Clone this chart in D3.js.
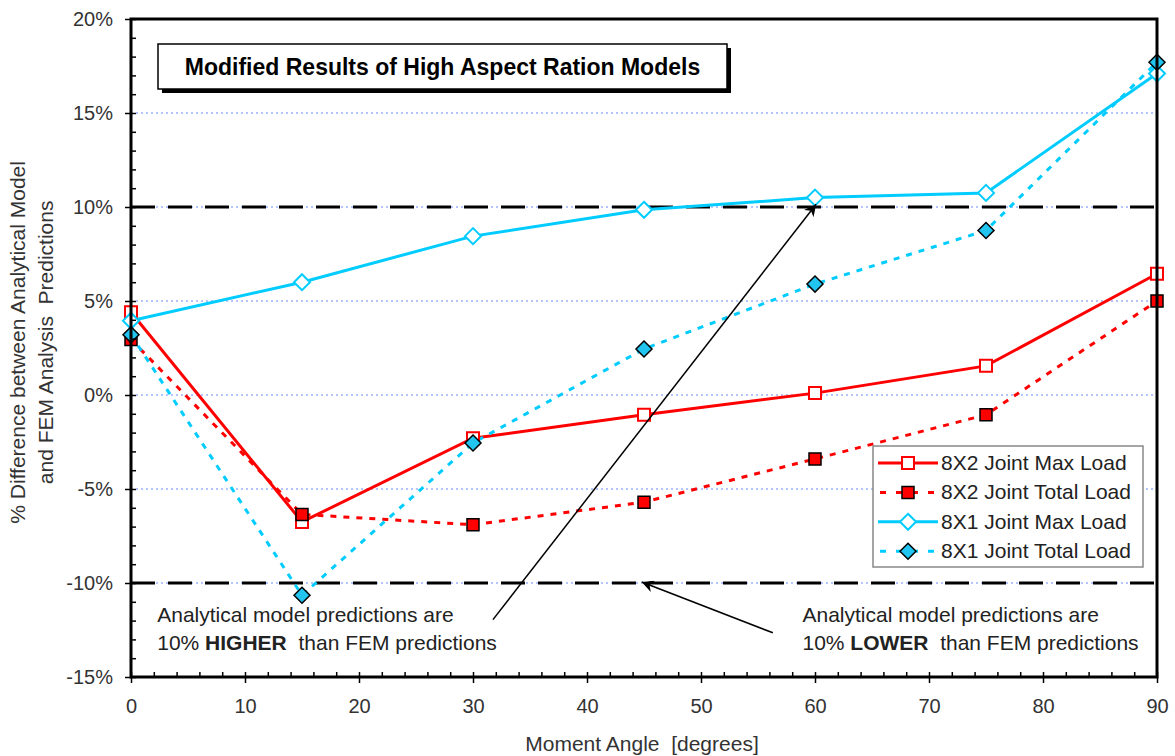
<!DOCTYPE html>
<html>
<head>
<meta charset="utf-8">
<script src="https://cdn.jsdelivr.net/npm/d3@7"></script>
<style>
  body { margin: 0; background: #fff; }
  text { font-family: Arial, 'Liberation Sans', sans-serif; }
</style>
</head>
<body>
<div id="chart"></div>
<script>
// Data (percent difference vs moment angle)

var angles = [0, 15, 30, 45, 60, 75, 90]
var max8x2 = [4.4, -6.75, -2.3, -1.05, 0.1, 1.55, 6.45]
var total8x2 = [2.95, -6.35, -6.9, -5.7, -3.4, -1.05, 5.0]
var max8x1 = [3.95, 6.0, 8.45, 9.85, 10.5, 10.75, 17.1]
var total8x1 = [3.2, -10.65, -2.55, 2.45, 5.9, 8.75, 17.7]

var seriesNames = [
  '8X2 Joint Max Load',
  '8X2 Joint Total Load',
  '8X1 Joint Max Load',
  '8X1 Joint Total Load'
]

var xTicks = [0, 10, 20, 30, 40, 50, 60, 70, 80, 90]
var yTicks = [-15, -10, -5, 0, 5, 10, 15, 20]
var gridValues = [-10, -5, 0, 5, 10, 15]
var limitValues = [-10, 10]

// Set up margin/height/width

var margin = { top: 19, left: 131, right: 18, bottom: 79 }
var height = 756 - margin.top - margin.bottom
var width = 1175 - margin.left - margin.right

var svg = d3
  .select('#chart')
  .append('svg')
  .attr('height', height + margin.top + margin.bottom)
  .attr('width', width + margin.left + margin.right)
  .append('g')
  .attr('transform', 'translate(' + margin.left + ',' + margin.top + ')')

var red = '#ff0000'
var cyan = '#00ccff'

// Scales

var xPositionScale = d3.scaleLinear().domain([0, 90]).range([0, width])
var yPositionScale = d3.scaleLinear().domain([-15, 20]).range([height, 0])

var series = [
  { name: seriesNames[0], values: max8x2, color: red, dashed: false, shape: 'square', filled: false },
  { name: seriesNames[1], values: total8x2, color: red, dashed: true, shape: 'square', filled: true },
  { name: seriesNames[2], values: max8x1, color: cyan, dashed: false, shape: 'diamond', filled: false },
  { name: seriesNames[3], values: total8x1, color: cyan, dashed: true, shape: 'diamond', filled: true }
]

// grid lines (light blue dotted)

svg
  .selectAll('.grid-line')
  .data(gridValues)
  .enter()
  .append('line')
  .attr('class', 'grid-line')
  .attr('x1', 0)
  .attr('x2', width)
  .attr('y1', d => yPositionScale(d))
  .attr('y2', d => yPositionScale(d))
  .attr('stroke', '#9db0ff')
  .attr('stroke-width', 1.5)
  .attr('stroke-dasharray', '2,3')

// +/-10% limit lines

svg
  .selectAll('.limit-line')
  .data(limitValues)
  .enter()
  .append('line')
  .attr('class', 'limit-line')
  .attr('x1', 0)
  .attr('x2', width)
  .attr('y1', d => yPositionScale(d))
  .attr('y2', d => yPositionScale(d))
  .attr('stroke', '#000')
  .attr('stroke-width', 3)
  .attr('stroke-dasharray', '24,13')

// lines

var line = d3
  .line()
  .x((d, i) => xPositionScale(angles[i]))
  .y(d => yPositionScale(d))

svg
  .selectAll('.series-line')
  .data(series)
  .enter()
  .append('path')
  .attr('class', 'series-line')
  .attr('d', d => line(d.values))
  .attr('fill', 'none')
  .attr('stroke', d => d.color)
  .attr('stroke-width', 3)
  .attr('stroke-dasharray', d => (d.dashed ? '6,7' : null))

// markers

function markerPath(shape) {
  if (shape === 'square') {
    return 'M-6,-6H6V6H-6Z'
  }
  return 'M0,-8L8,0L0,8L-8,0Z'
}

function markerFill(d) {
  if (!d.filled) return '#fff'
  return d.shape === 'square' ? red : '#22c4f0'
}

function markerStroke(d) {
  return d.filled ? '#000' : d.color
}

series.forEach(function(s) {
  svg
    .selectAll('.marker-' + s.shape)
    .data(s.values)
    .enter()
    .append('path')
    .attr('d', markerPath(s.shape))
    .attr('transform', (d, i) => 'translate(' + xPositionScale(angles[i]) + ',' + yPositionScale(d) + ')')
    .attr('fill', markerFill(s))
    .attr('stroke', markerStroke(s))
    .attr('stroke-width', s.filled ? 1.5 : 2)
})

// plot frame

svg
  .append('rect')
  .attr('x', 0)
  .attr('y', 0)
  .attr('width', width)
  .attr('height', height)
  .attr('fill', 'none')
  .attr('stroke', '#000')
  .attr('stroke-width', 3)

// axes

var yAxis = d3
  .axisLeft(yPositionScale)
  .tickValues(yTicks)
  .tickSize(6)
  .tickPadding(12)
  .tickSizeOuter(0)
  .tickFormat(d => d + '%')

var yMinor = d3
  .axisLeft(yPositionScale)
  .tickValues(d3.range(-15, 20.1, 1))
  .tickSize(-5)
  .tickSizeOuter(0)
  .tickFormat('')

var xAxis = d3
  .axisBottom(xPositionScale)
  .tickValues(xTicks)
  .tickSize(6)
  .tickPadding(16)
  .tickSizeOuter(0)

var xMinor = d3
  .axisBottom(xPositionScale)
  .tickValues(d3.range(0, 90.1, 2))
  .tickSize(-5)
  .tickSizeOuter(0)
  .tickFormat('')

svg.append('g').attr('class', 'axis y-minor').call(yMinor)
svg.append('g').attr('class', 'axis y-axis').call(yAxis)
svg
  .append('g')
  .attr('class', 'axis x-minor')
  .attr('transform', 'translate(0,' + height + ')')
  .call(xMinor)
svg
  .append('g')
  .attr('class', 'axis x-axis')
  .attr('transform', 'translate(0,' + height + ')')
  .call(xAxis)

svg.selectAll('.axis .domain').remove()
svg.selectAll('.axis line').attr('stroke', '#000').attr('stroke-width', 1.5)
svg
  .selectAll('.axis text')
  .attr('font-size', 20)
  .attr('fill', '#333')
  .style('font-family', 'Arial, Liberation Sans, sans-serif')

// axis titles

svg
  .append('text')
  .text('Moment Angle  [degrees]')
  .attr('x', width / 2 - 2)
  .attr('y', height + 74)
  .attr('text-anchor', 'middle')
  .attr('font-size', 21)
  .attr('fill', '#333')
  .style('white-space', 'pre')

var yTitle = svg
  .append('text')
  .attr('transform', 'translate(' + (-margin.left + 25) + ',' + (yPositionScale(2.8)) + ') rotate(-90)')
  .attr('text-anchor', 'middle')
  .attr('font-size', 21)
  .attr('fill', '#333')
  .style('white-space', 'pre')

yTitle.append('tspan').attr('x', 0).attr('y', 0).text('% Difference between Analytical Model')
yTitle.append('tspan').attr('x', 0).attr('y', 28).text('and FEM Analysis  Predictions')

// title box with shadow

var titleBox = { x: 27, y: 25, w: 569, h: 45 }

svg
  .append('rect')
  .attr('x', titleBox.x + 4)
  .attr('y', titleBox.y + 4)
  .attr('width', titleBox.w)
  .attr('height', titleBox.h)
  .attr('fill', '#000')

svg
  .append('rect')
  .attr('x', titleBox.x)
  .attr('y', titleBox.y)
  .attr('width', titleBox.w)
  .attr('height', titleBox.h)
  .attr('fill', '#fff')
  .attr('stroke', '#000')
  .attr('stroke-width', 1.5)

svg
  .append('text')
  .text('Modified Results of High Aspect Ration Models')
  .attr('x', titleBox.x + titleBox.w / 2)
  .attr('y', titleBox.y + 31)
  .attr('text-anchor', 'middle')
  .attr('font-size', 23)
  .attr('font-weight', 'bold')
  .attr('fill', '#000')

// legend

var legend = svg.append('g').attr('transform', 'translate(742,427)')

legend
  .append('rect')
  .attr('width', 270)
  .attr('height', 121)
  .attr('fill', '#fff')
  .attr('stroke', '#888')
  .attr('stroke-width', 1.5)

var legendItem = legend
  .selectAll('.legend-item')
  .data(series)
  .enter()
  .append('g')
  .attr('class', 'legend-item')
  .attr('transform', (d, i) => 'translate(0,' + (17 + i * 29.4) + ')')

legendItem
  .append('line')
  .attr('x1', 5)
  .attr('x2', 65)
  .attr('stroke', d => d.color)
  .attr('stroke-width', 3)
  .attr('stroke-dasharray', d => (d.dashed ? '6,10' : null))
  .attr('stroke-dashoffset', d => (d.dashed ? -2 : null))

legendItem
  .append('path')
  .attr('d', d => markerPath(d.shape))
  .attr('transform', 'translate(35,0)')
  .attr('fill', markerFill)
  .attr('stroke', markerStroke)
  .attr('stroke-width', d => (d.filled ? 1.5 : 2))

legendItem
  .append('text')
  .text(d => d.name)
  .attr('x', 68)
  .attr('y', 7)
  .attr('font-size', 21)
  .attr('fill', '#222')

// annotations

svg
  .append('defs')
  .append('marker')
  .attr('id', 'arrow')
  .attr('viewBox', '0 0 10 10')
  .attr('refX', 10)
  .attr('refY', 5)
  .attr('markerWidth', 15)
  .attr('markerHeight', 12)
  .attr('markerUnits', 'userSpaceOnUse')
  .attr('orient', 'auto')
  .append('path')
  .attr('d', 'M0,0L10,5L0,10L3,5Z')
  .attr('fill', '#000')

var arrows = [
  { from: [31.75, -11.95], to: [60.1, 10.15] },
  { from: [56.3, -12.65], to: [44.8, -9.95] }
]

svg
  .selectAll('.arrow')
  .data(arrows)
  .enter()
  .append('line')
  .attr('class', 'arrow')
  .attr('x1', d => xPositionScale(d.from[0]))
  .attr('y1', d => yPositionScale(d.from[1]))
  .attr('x2', d => xPositionScale(d.to[0]))
  .attr('y2', d => yPositionScale(d.to[1]))
  .attr('stroke', '#000')
  .attr('stroke-width', 1.5)
  .attr('marker-end', 'url(#arrow)')

var notes = [
  { x: 2.3, word: 'HIGHER' },
  { x: 58.9, word: 'LOWER' }
]

notes.forEach(function(n) {
  var t = svg
    .append('text')
    .attr('font-size', 21)
    .attr('fill', '#222')
    .style('white-space', 'pre')
  t.append('tspan')
    .attr('x', xPositionScale(n.x))
    .attr('y', yPositionScale(-12.1))
    .text('Analytical model predictions are')
  t.append('tspan')
    .attr('x', xPositionScale(n.x))
    .attr('y', yPositionScale(-13.55))
    .text('10% ')
  t.append('tspan').attr('font-weight', 'bold').text(n.word)
  t.append('tspan').text('  than FEM predictions')
})
</script>
</body>
</html>
